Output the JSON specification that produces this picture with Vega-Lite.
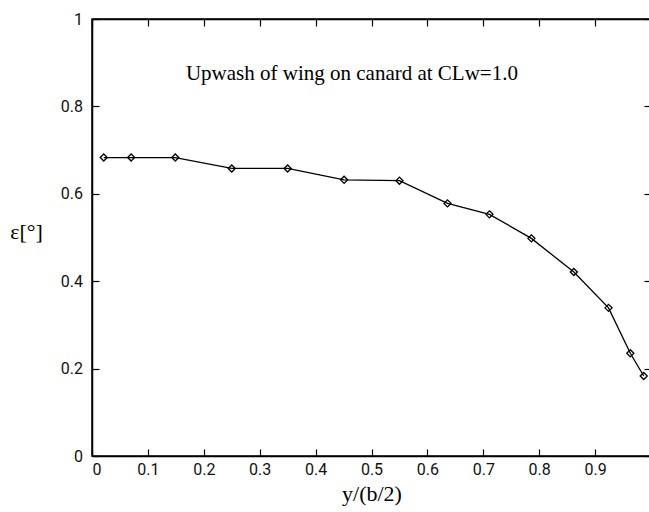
{
  "$schema": "https://vega.github.io/schema/vega-lite/v6.json",
  "autosize": "none",
  "padding": {"left": 92, "top": 19, "right": 0, "bottom": 56},
  "width": 559,
  "height": 437,
  "background": "white",
  "config": {
    "view": {"stroke": "#000", "strokeWidth": 1.5},
    "axis": {
      "grid": false,
      "domainColor": "#000",
      "domainWidth": 1.5,
      "tickColor": "#000",
      "tickWidth": 1.2,
      "labelFont": "Roboto",
      "labelFontSize": 16,
      "labelColor": "#111",
      "titleFont": "Liberation Serif",
      "titleFontSize": 22,
      "titleFontWeight": "normal",
      "titleColor": "#000"
    }
  },
  "layer": [
    {
      "data": {
        "values": [
          {"span": 0.021, "eps": 0.683},
          {"span": 0.070, "eps": 0.683},
          {"span": 0.149, "eps": 0.683},
          {"span": 0.250, "eps": 0.658},
          {"span": 0.350, "eps": 0.658},
          {"span": 0.451, "eps": 0.632},
          {"span": 0.550, "eps": 0.630},
          {"span": 0.636, "eps": 0.578},
          {"span": 0.711, "eps": 0.553},
          {"span": 0.786, "eps": 0.498},
          {"span": 0.862, "eps": 0.421},
          {"span": 0.924, "eps": 0.339},
          {"span": 0.963, "eps": 0.235},
          {"span": 0.987, "eps": 0.183}
        ]
      },
      "layer": [
        {
          "mark": {"type": "line", "color": "#000", "strokeWidth": 1.3},
          "encoding": {
            "x": {
              "field": "span", "type": "quantitative",
              "scale": {"domain": [0, 1], "nice": false, "zero": false},
              "axis": {
                "orient": "bottom",
                "values": [0, 0.1, 0.2, 0.3, 0.4, 0.5, 0.6, 0.7, 0.8, 0.9],
                "format": "~g",
                "tickSize": -7,
                "labelPadding": 12,
                "title": "y/(b/2)",
                "titlePadding": 6
              }
            },
            "y": {
              "field": "eps", "type": "quantitative",
              "scale": {"domain": [0, 1], "nice": false, "zero": false},
              "axis": {
                "orient": "left",
                "values": [0, 0.2, 0.4, 0.6, 0.8, 1],
                "format": "~g",
                "tickSize": -7,
                "labelPadding": 16.5,
                "title": "ε[°]",
                "titleAngle": 0,
                "titleAlign": "center",
                "titleBaseline": "middle",
                "titleX": -66,
                "titleY": 212
              }
            }
          }
        },
        {
          "mark": {"type": "point", "shape": "diamond", "filled": false, "color": "#000", "size": 50, "strokeWidth": 1.3, "opacity": 1},
          "encoding": {
            "x": {
              "field": "span", "type": "quantitative",
              "axis": {
                "orient": "top",
                "values": [0, 0.1, 0.2, 0.3, 0.4, 0.5, 0.6, 0.7, 0.8, 0.9],
                "labels": false,
                "tickSize": -7,
                "title": null
              }
            },
            "y": {
              "field": "eps", "type": "quantitative",
              "axis": {
                "orient": "right",
                "values": [0, 0.2, 0.4, 0.6, 0.8, 1],
                "labels": false,
                "tickSize": -7,
                "title": null
              }
            }
          }
        }
      ]
    },
    {
      "data": {"values": [{"note": "Upwash of wing on canard at CLw=1.0"}]},
      "mark": {"type": "text", "font": "Liberation Serif", "fontSize": 21, "color": "#000", "align": "center", "baseline": "alphabetic"},
      "encoding": {
        "x": {"datum": 0.465, "type": "quantitative", "axis": null},
        "y": {"datum": 0.861, "type": "quantitative", "axis": null},
        "text": {"field": "note"}
      }
    }
  ],
  "resolve": {"axis": {"x": "independent", "y": "independent"}}
}
